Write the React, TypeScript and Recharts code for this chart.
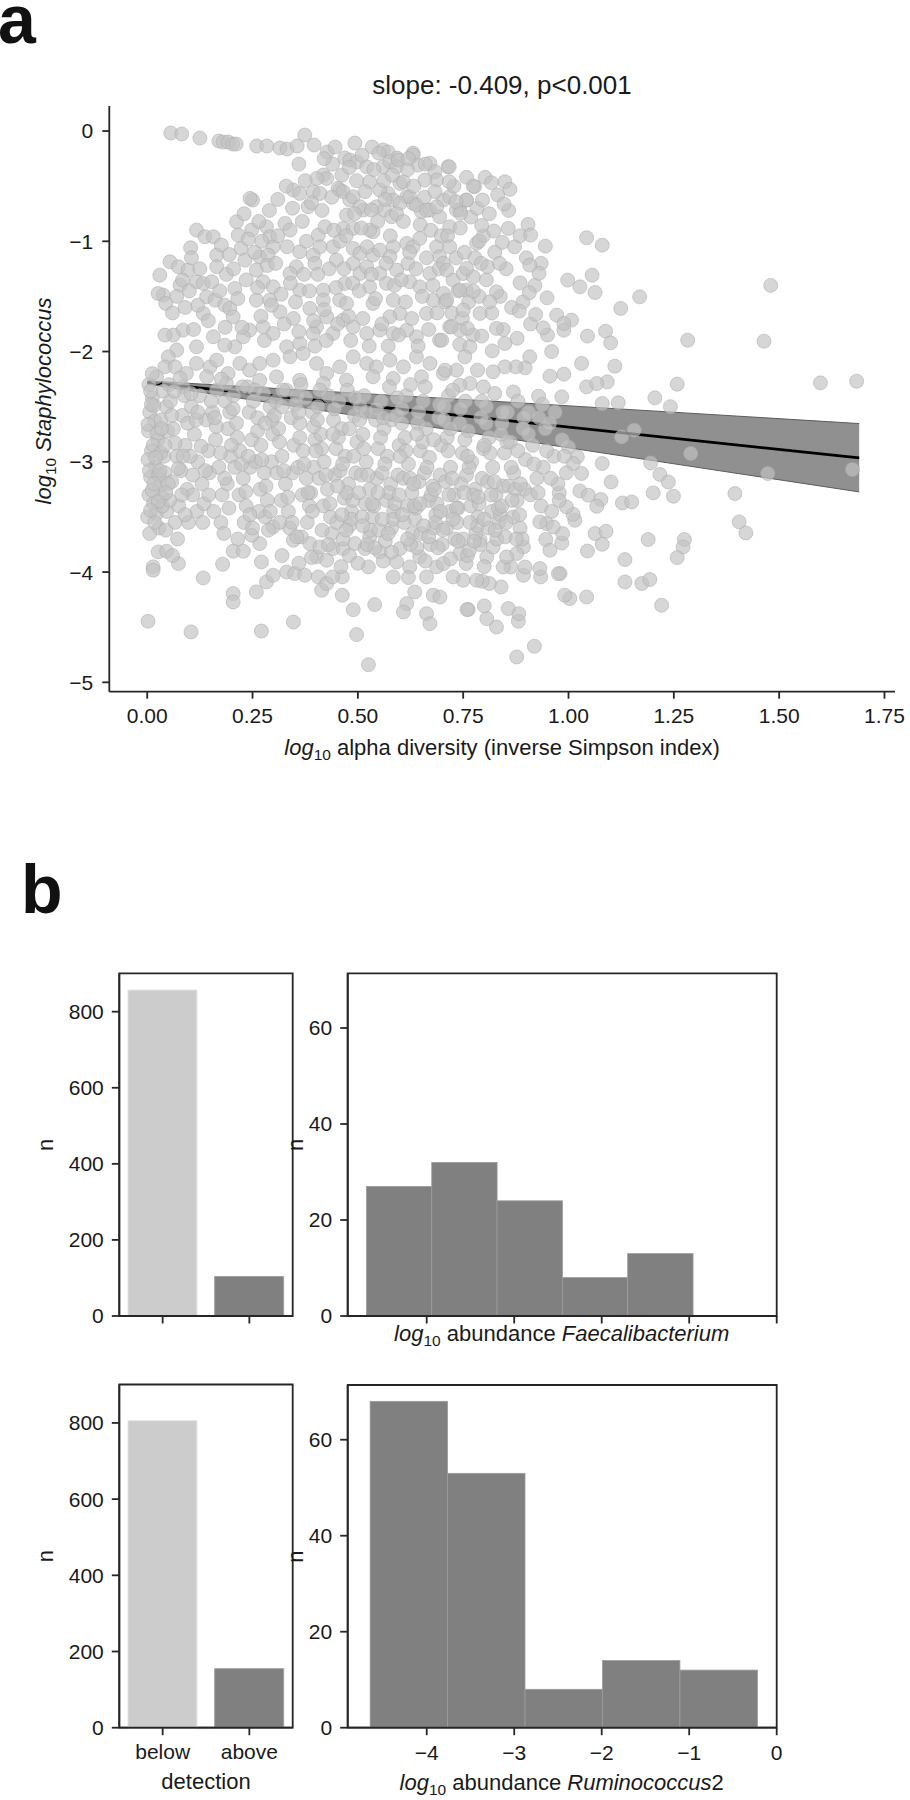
import React from 'react';
import { ComposedChart, Scatter, Line, Area, XAxis, YAxis, BarChart, Bar, Cell, ReferenceArea } from 'recharts';

const FONT = '"Liberation Sans", Arial, Helvetica, sans-serif';
const AX = '#262626';

// ---------- panel a: scatter values [log10 alpha diversity, log10 Staphylococcus] ----------
const topRowPoints: [number, number][] = [
  [.056,-.018],[.082,-.027],[.125,-.064],[.170,-.091],[.180,-.10],[.192,-.10],[.203,-.118],[.211,-.118],[.260,-.136],[.284,-.136],
  [.315,-.154],[.332,-.163],[.356,-.136],[.374,-.036],[.396,-.127],[.427,-.19],[.446,-.145],[.469,-.245],[.481,-.263],[.498,-.281],
  [.493,-.109],[.534,-.145],[.560,-.172],[.572,-.19],[.593,-.245],[.631,-.2],
];

const upperPoints: [number, number][] = [
  [.03,-1.307],[.038,-1.488],[.026,-1.473],[.044,-1.564],[.054,-1.186],[.074,-1.231],[.097,-1.261],[.078,-1.397],[.084,-1.352],[.117,-.898],
  [.137,-.959],[.157,-.959],[.103,-1.059],[.165,-1.125],[.176,-1.034],[.165,-1.231],[.117,-1.367],[.133,-1.382],[.153,-1.367],[.141,-1.503],
  [.133,-1.655],[.161,-1.534],[.184,-1.579],[.196,-1.609],[.204,-1.685],[.208,-1.428],[.212,-.823],[.216,-.944],[.223,-1.065],[.232,-1.171],
  [.25,-.626],[.244,-.611],[.259,-1.534],[.248,-.898],[.283,-.868],[.291,-.959],[.299,-1.05],[.267,-1.14],[.287,-1.125],[.259,-1.261],
  [.275,-1.367],[.299,-1.413],[.327,-.838],[.339,-.898],[.362,-1.095],[.354,-1.231],[.362,-1.443],[.394,-1.125],[.398,-1.201],[.418,-1.443],
  [.418,-1.534],[.386,-1.609],[.347,-1.7],[.315,-1.64],[.291,-1.534],[.339,-1.292],[.347,-.535],[.362,-.566],[.382,-.687],[.394,-.551],
  [.418,-.399],[.41,-.566],[.406,-.944],[.422,-.868],[.441,-1.05],[.449,-1.171],[.457,-1.534],[.473,-1.564],[.469,-1.382],[.489,-1.065],
  [.505,-1.11],[.489,-1.201],[.505,-1.292],[.521,-1.231],[.536,-1.125],[.552,-1.292],[.568,-1.382],[.584,-1.534],[.6,-1.655],[.576,-1.685],
  [.536,-1.564],[.528,-1.413],[.473,-.762],[.481,-.626],[.457,-.535],[.465,-.883],[.489,-.883],[.513,-.717],[.536,-.913],[.528,-.898],
  [.544,-.687],[.563,-.717],[.58,-.777],[.572,-.566],[.584,-.626],[.6,-.475],[.616,-.596],[.631,-.656],[.651,-.732],[.671,-.717],
  [.694,-.777],[.703,-.626],[.718,-.868],[.742,-.717],[.757,-.626],[.777,-.505],[.782,-1.019],[.616,-1.019],[.631,-1.05],[.647,-.974],
  [.687,-1.05],[.694,-1.14],[.584,-1.05],[.576,-1.14],[.592,-1.261],[.619,-1.201],[.623,-1.367],[.647,-1.413],[.671,-1.292],[.679,-1.534],
  [.703,-1.473],[.726,-1.352],[.75,-1.292],[.757,-1.443],[.718,-1.776],[.742,-1.806],[.694,-1.897],[.663,-1.655],[.639,-1.866],[.616,-1.806],
  [.584,-1.836],[.552,-1.806],[.521,-1.836],[.489,-1.776],[.465,-1.715],[.441,-1.836],[.426,-1.685],[.402,-1.776],[.394,-1.836],[.362,-1.927],
  [.331,-1.957],[.299,-1.836],[.275,-1.776],[.243,-1.806],[.228,-1.866],[.208,-1.957],[.184,-1.942],[.157,-1.866],[.117,-1.957],[.085,-1.806],
  [.062,-1.851],[.042,-1.851],[.070,-1.987],[.05,-2.048],[.042,-2.139],[.022,-2.229],[.066,-2.139],[.093,-2.199],[.117,-2.108],[.149,-2.139],
  [.165,-2.078],[.192,-2.199],[.22,-2.108],[.243,-2.169],[.267,-2.108],[.299,-2.078],[.339,-2.048],[.37,-2.018],[.402,-2.108],[.426,-2.199],
  [.457,-2.139],[.489,-2.048],[.521,-2.108],[.544,-2.139],[.576,-2.078],[.608,-2.139],[.639,-2.048],[.671,-2.108],[.703,-2.199],[.734,-2.169],
  [.766,-2.29],[.651,-2.229],[.584,-2.244],[.536,-2.229],[.473,-2.26],[.418,-2.29],[.362,-2.26],[.307,-2.229],[.267,-2.26],[.188,-2.29],
  [.141,-2.229],[.085,-2.32],[.631,-.218],[.643,-.309],[.671,-.293],[.683,-.369],[.714,-.324],[.687,-.445],[.659,-.445],[.608,-.46],
  [.552,-.535],[.528,-.46],[.426,-.43],[.402,-.43],[.734,-.717],[.718,-.596],[.521,-.324],[.56,-.324],[.576,-.278],[.592,-.324],
  [.596,-.263],[.453,-.52],[.465,-.55],[.489,-.596],[.505,-.687],[.532,-.717],[.6,-.656],[.623,-.596],[.639,-.671],[.663,-.717],[.687,-.687],
];

const upperFillPoints: [number, number][] = [
  [.105,-1.15],[.125,-1.25],[.145,-1.72],[.11,-1.8],[.172,-1.45],[.188,-1.3],[.195,-1.12],[.12,-1.58],[.185,-1.78],[.09,-1.6],[.07,-1.5],[.06,-1.65],[.1,-1.45],
  [.205,-1.25],[.215,-1.52],[.225,-1.78],[.235,-1.35],[.24,-.98],[.255,-1.1],[.262,-1.42],[.27,-1.68],[.278,-1.9],[.285,-1.22],[.29,-.72],[.295,-1.58],[.23,-.75],[.265,-.82],[.272,-1.0],
  [.305,-1.2],[.31,-.95],[.318,-1.48],[.325,-1.75],[.332,-1.05],[.34,-1.38],[.345,-.7],[.352,-1.55],[.36,-1.82],[.368,-.82],[.372,-1.3],[.378,-1.0],[.385,-1.45],[.39,-.65],[.395,-1.72],[.398,-1.95],[.31,-.62],[.33,-.5],[.375,-.45],[.36,-.3],
  [.405,-1.3],[.41,-1.05],[.415,-.72],[.42,-1.62],[.425,-1.9],[.432,-1.25],[.438,-.6],[.443,-.9],[.448,-1.42],[.452,-1.75],[.458,-1.0],[.462,-.4],[.467,-1.25],[.472,-.95],[.478,-1.68],[.483,-1.9],[.488,-1.38],[.492,-.75],[.497,-.45],[.44,-.3],[.42,-.25],[.48,-.33],
  [.503,-1.45],[.508,-.88],[.512,-1.7],[.517,-.55],[.522,-1.05],[.527,-1.95],[.532,-1.3],[.538,-.35],[.542,-1.52],[.547,-.82],[.552,-1.08],[.557,-1.75],[.562,-.45],[.567,-1.2],[.572,-1.95],[.577,-.95],[.582,-.4],[.587,-1.4],[.592,-.75],[.597,-1.85],[.55,-.2],[.51,-.22],[.565,-.62],
  [.603,-1.35],[.608,-.82],[.613,-1.55],[.618,-.35],[.623,-1.1],[.628,-1.7],[.633,-.5],[.638,-1.25],[.643,-1.95],[.648,-.85],[.653,-1.5],[.658,-.6],[.663,-1.15],[.668,-1.8],[.673,-.9],[.678,-1.4],[.683,-.55],[.688,-1.65],[.693,-1.25],[.698,-.95],[.62,-.25],[.66,-.3],
  [.703,-1.2],[.708,-1.55],[.713,-.95],[.718,-1.05],[.723,-1.65],[.728,-.5],[.733,-1.15],[.738,-1.45],[.743,-.88],[.748,-1.7],[.753,-1.1],[.758,-.42],[.763,-1.55],[.768,-.78],[.773,-1.85],[.778,-1.15],[.783,-.7],[.788,-1.5],[.793,-1.2],[.798,-.95],
  [.805,-1.35],[.812,-.75],[.818,-1.65],[.825,-1.1],[.832,-.58],[.838,-1.5],[.845,-1.8],[.852,-1.25],[.858,-.72],[.865,-1.6],[.872,-1.05],[.878,-1.88],[.885,-.95],[.892,-1.55],[.9,-1.15],[.91,-1.75],[.92,-1.4],[.935,-1.2],[.95,-1.85],[.96,-2.0],
];

const rightPoints: [number, number][] = [
  [1.480,-1.40],[1.283,-1.897],[1.464,-1.906],[1.598,-2.284],[1.684,-2.269],[1.258,-2.296],[1.205,-2.42],[1.242,-2.50],[1.169,-1.504],[1.124,-1.609],
  [1.043,-.968],[1.080,-1.035],[1.056,-1.307],[1.027,-1.413],[1.063,-1.464],[.998,-1.352],[1.045,-1.86],[1.088,-1.815],[1.100,-1.921],[1.031,-2.108],
  [1.110,-2.133],[1.092,-2.275],[1.118,-2.465],[1.080,-2.471],[1.043,-2.32],[.972,-1.67],[1.007,-1.715],[.989,-1.806],[.949,-1.513],[.930,-1.291],
  [.908,-1.216],[.945,-1.044],[.904,-.847],[.910,-.944],[.857,-.883],[.823,-.907],[.794,-.856],[.788,-.998],[.843,-1.01],[.849,-.46],
  [.861,-.529],[.847,-.662],[.796,-.626],[.802,-.42],[.817,-.469],[.774,-.499],[.717,-.324],[.717,-.46],[.758,-.626],[.733,-.641],
  [.744,-.747],[.885,-1.376],[.907,-1.467],[.883,-1.633],[.922,-1.664],[.940,-1.785],[.989,-1.745],[.829,-1.79],[.849,-1.927],[.819,-1.994],
  [.794,-1.86],[.908,-2.048],[.897,-2.148],[.875,-2.139],[.849,-2.139],[.784,-2.169],[.821,-2.184],[.929,-2.405],[.956,-2.223],[.989,-2.205],
  [.984,-2.411],[1.067,-2.29],[.808,-1.231],[.836,-1.2],[.774,-1.322],[.829,-1.458],[.813,-1.549],[.790,-1.654],[.750,-1.624],[.722,-1.776],
  [.760,-1.79],[.742,-1.936],[.766,-1.957],[.754,-2.048],[.699,-1.897],[.707,-2.169],[.742,-2.305],[.798,-2.32],[.869,-2.366],[.742,-1.443],
  [.774,-1.452],[.711,-1.261],[.758,-1.246],[.711,-1.534],[1.0,-2.865],[1.021,-2.955],
  [1.674,-3.07],[1.473,-3.106],[1.290,-2.925],[1.395,-3.288],[1.405,-3.545],[1.421,-3.645],[1.275,-3.705],[1.272,-3.772],[1.258,-3.869],[1.189,-3.705],
  [1.134,-3.887],[1.134,-4.09],[1.174,-4.104],[1.193,-4.068],[1.221,-4.301],[1.043,-4.226],[1.003,-4.24],[.991,-4.21],[.919,-4.673],[.877,-4.77],
  [.829,-4.498],[.806,-4.422],[.881,-4.446],[.882,-4.377],[.857,-4.331],[.762,-4.34],[.8,-4.307],[.840,-4.135],[.812,-4.104],[.795,-4.083],
  [.750,-4.074],[.893,-4.029],[.934,-4.044],[.980,-4.014],[1.045,-3.809],[1.080,-3.748],[1.063,-3.651],[1.089,-3.63],[.984,-3.736],[.986,-3.651],
  [.946,-3.705],[.893,-3.772],[.877,-3.832],[.863,-3.954],[.845,-3.954],[.806,-3.863],[.948,-3.56],[.964,-3.591],[.932,-3.545],[1.015,-3.53],
  [1.011,-3.476],[.995,-3.409],[.978,-3.282],[1.027,-3.264],[1.047,-3.303],[1.077,-3.342],[1.128,-3.373],[1.150,-3.364],[1.101,-3.183],[1.080,-3.016],
  [1.011,-3.016],[1.031,-3.106],[1.201,-3.282],[1.217,-3.115],[1.237,-3.183],[1.249,-3.312],[1.195,-3.01],[1.126,-2.774],[1.156,-2.713],[1.067,-3.403],
  [.956,-3.802],[.976,-4.014],[.932,-3.968],[.897,-3.954],[.853,-3.863],[.821,-3.772],[.790,-3.712],
];

const lowerPoints: [number, number][] = [
  [.002,-4.446],[.104,-4.543],[.271,-4.535],[.347,-4.453],[.497,-4.567],[.525,-4.84],[.489,-4.341],[.540,-4.295],[.463,-4.21],[.616,-4.286],
  [.608,-4.362],[.635,-4.18],[.663,-4.377],[.671,-4.468],[.679,-4.21],[.695,-4.226],[.759,-4.34],[.014,-3.953],[.014,-3.983],
  [.026,-3.817],[.046,-3.811],[.074,-3.923],[.133,-4.053],[.179,-3.929],[.204,-4.195],[.204,-4.271],[.204,-3.811],[.228,-3.811],[.259,-4.18],
  [.271,-3.908],[.283,-4.089],[.299,-4.029],[.331,-3.999],[.350,-4.014],[.374,-4.029],[.406,-4.044],[.414,-4.165],[.426,-4.104],[.463,-4.044],
  [.44,-4.044],[.402,-3.862],[.39,-3.868],[.426,-3.893],[.441,-3.787],[.465,-3.787],[.493,-3.742],[.517,-3.787],[.525,-3.953],[.528,-3.681],
  [.552,-3.817],[.584,-4.044],[.592,-3.908],[.6,-3.787],[.623,-3.953],[.647,-3.862],[.663,-4.044],[.687,-3.953],[.703,-3.923],[.726,-4.044],
  [.742,-3.832],[.757,-3.923],[.782,-4.074],[.267,-3.742],[.248,-3.666],[.299,-3.59],[.347,-3.711],[.366,-3.681],[.386,-3.742],[.41,-3.772],
  [.32,-3.85],[.36,-3.92],[.48,-3.85],[.5,-3.92],[.56,-3.9],[.58,-3.82],[.64,-3.78],[.66,-3.9],[.72,-3.88],[.7,-3.75],[.76,-3.85],[.8,-3.95],[.62,-4.05],[.46,-3.95],
];

const coreBandPoints: [number, number][] = [
  [.004,-2.30],[.012,-2.42],[.006,-2.55],[.018,-2.63],[.003,-2.72],[.025,-2.80],[.010,-2.90],[.002,-2.98],[.020,-3.05],[.008,-3.14],
  [.030,-3.22],[.004,-3.30],[.015,-3.38],[.001,-3.50],[.022,-3.47],[.035,-3.32],[.040,-2.95],[.045,-2.50],[.033,-2.62],[.028,-3.60],
  [.042,-3.10],[.048,-2.72],[.012,-2.20],[.038,-2.36],[.006,-3.65],[.046,-3.45],
  [.055,-2.45],[.062,-2.70],[.070,-2.95],[.058,-3.18],[.075,-3.40],[.083,-2.58],[.090,-2.85],[.066,-3.55],[.095,-3.25],[.080,-3.08],
  [.052,-2.30],[.088,-2.40],[.098,-3.55],[.072,-3.70],[.060,-3.85],
  [.105,-2.50],[.112,-2.75],[.120,-3.00],[.130,-3.20],[.140,-2.62],[.108,-3.30],[.125,-2.40],[.145,-2.90],[.118,-3.45],[.135,-3.38],[.148,-3.10],[.102,-2.95],
  [.155,-2.55],[.162,-2.80],[.170,-3.05],[.178,-3.30],[.185,-2.45],[.192,-2.70],[.198,-2.95],[.158,-3.45],[.175,-3.55],[.190,-3.20],[.165,-2.35],[.182,-3.65],
  [.205,-2.40],[.212,-2.65],[.220,-2.90],[.228,-3.15],[.235,-3.40],[.242,-2.55],[.248,-2.80],[.208,-3.05],[.218,-3.30],[.230,-3.55],[.245,-3.05],[.238,-2.32],[.215,-3.70],
  [.255,-2.35],[.262,-2.60],[.270,-2.85],[.278,-3.10],[.285,-3.35],[.292,-2.50],[.298,-2.75],[.258,-3.00],[.268,-3.25],[.280,-3.50],[.295,-3.00],[.288,-3.62],[.265,-3.45],
  [.305,-2.45],[.312,-2.70],[.320,-2.95],[.328,-3.20],[.335,-3.45],[.342,-2.60],[.348,-2.85],[.308,-3.10],[.318,-3.35],[.330,-2.35],[.345,-3.10],[.338,-3.60],[.315,-3.55],
  [.355,-2.40],[.362,-2.65],[.370,-2.90],[.378,-3.15],[.385,-3.40],[.392,-2.55],[.398,-2.80],[.358,-3.05],[.368,-3.30],[.380,-3.55],[.395,-3.05],[.388,-3.28],[.365,-2.30],
  [.405,-2.50],[.412,-2.75],[.420,-3.00],[.428,-3.25],[.435,-3.50],[.442,-2.62],[.448,-2.88],[.408,-3.15],[.418,-3.40],[.430,-2.40],[.445,-3.12],[.438,-3.65],[.415,-3.62],
  [.455,-2.45],[.462,-2.70],[.470,-2.95],[.478,-3.20],[.485,-3.45],[.492,-2.58],[.498,-2.82],[.458,-3.08],[.468,-3.33],[.480,-3.58],[.495,-3.10],[.488,-3.35],[.465,-3.70],[.475,-2.35],
  [.505,-2.50],[.512,-2.75],[.520,-3.00],[.528,-3.25],[.535,-3.50],[.542,-2.62],[.548,-2.88],[.508,-3.12],[.518,-3.38],[.530,-3.62],[.545,-3.15],[.538,-3.40],[.515,-2.40],
  [.555,-2.45],[.562,-2.70],[.570,-2.95],[.578,-3.20],[.585,-3.45],[.592,-2.58],[.598,-2.85],[.558,-3.10],[.568,-3.35],[.580,-3.60],[.595,-3.12],[.588,-3.38],[.575,-2.32],[.565,-3.72],
  [.605,-2.52],[.612,-2.78],[.620,-3.02],[.628,-3.28],[.635,-3.52],[.642,-2.65],[.648,-2.90],[.608,-3.15],[.618,-3.40],[.630,-3.65],[.645,-3.18],[.638,-3.42],[.615,-2.40],[.625,-3.75],
  [.655,-2.45],[.662,-2.70],[.670,-2.96],[.678,-3.22],[.685,-3.48],[.692,-2.60],[.698,-2.85],[.658,-3.10],[.668,-3.35],[.680,-3.60],[.695,-3.12],[.688,-3.38],[.672,-3.75],[.660,-2.32],
  [.705,-2.50],[.712,-2.78],[.720,-3.05],[.728,-3.30],[.735,-3.55],[.742,-2.65],[.748,-2.92],[.708,-3.18],[.718,-3.45],[.730,-3.70],[.745,-3.20],[.738,-3.42],[.715,-2.40],
  [.755,-2.45],[.762,-2.72],[.770,-3.00],[.778,-3.25],[.785,-3.50],[.792,-2.60],[.798,-2.88],[.758,-3.12],[.768,-3.40],[.780,-3.65],[.795,-3.15],[.788,-3.38],[.765,-3.80],
  [.805,-2.50],[.812,-2.78],[.820,-3.05],[.828,-3.30],[.835,-3.55],[.842,-2.65],[.848,-2.92],[.808,-3.18],[.818,-3.45],[.830,-3.70],[.845,-3.22],[.838,-3.48],
  [.855,-2.55],[.862,-2.82],[.870,-3.10],[.878,-3.35],[.885,-3.60],[.892,-2.70],[.898,-2.98],[.858,-3.22],[.868,-3.50],[.880,-2.45],[.895,-3.25],
  [.905,-2.55],[.915,-2.85],[.925,-3.15],[.935,-3.40],[.945,-2.70],[.910,-3.30],[.930,-2.60],[.940,-3.05],
  [.955,-2.65],[.965,-2.95],[.975,-3.20],[.985,-2.80],[.995,-3.10],[.960,-3.45],
];

const coreFillPoints: [number, number][] = [
  [.008,-2.36],[.016,-2.49],[.002,-2.66],[.024,-2.74],[.014,-2.85],[.032,-2.92],[.005,-3.08],[.027,-3.12],[.012,-3.26],[.036,-3.40],[.018,-3.55],[.044,-3.62],
  [.058,-2.58],[.066,-2.83],[.074,-3.06],[.082,-3.30],[.090,-3.48],[.064,-2.36],[.078,-2.24],[.096,-2.65],[.085,-2.95],[.053,-3.35],
  [.104,-2.38],[.116,-2.62],[.128,-2.86],[.138,-3.08],[.146,-3.30],[.152,-2.45],[.164,-2.68],[.174,-2.92],[.184,-3.15],[.194,-3.42],[.108,-3.12],[.132,-3.55],[.176,-2.25],[.196,-2.55],
  [.204,-2.52],[.214,-2.78],[.224,-3.02],[.234,-3.27],[.244,-3.48],[.252,-2.45],[.262,-2.72],[.272,-2.98],[.282,-3.22],[.292,-3.45],[.226,-2.32],[.276,-2.38],[.296,-2.62],[.25,-3.6],
  [.302,-2.58],[.314,-2.82],[.324,-3.08],[.334,-3.32],[.344,-3.55],[.352,-2.48],[.362,-2.78],[.372,-3.02],[.382,-3.28],[.392,-3.45],[.322,-2.35],[.376,-2.42],[.395,-2.68],[.355,-3.68],
  [.404,-2.62],[.414,-2.88],[.424,-3.12],[.434,-3.38],[.444,-2.52],[.454,-2.78],[.464,-3.02],[.474,-3.28],[.484,-3.52],[.494,-2.42],[.41,-2.35],[.45,-3.55],[.49,-2.95],[.43,-3.75],
  [.504,-2.62],[.514,-2.88],[.524,-3.12],[.534,-3.38],[.544,-2.52],[.554,-2.78],[.564,-3.02],[.574,-3.28],[.584,-3.52],[.594,-2.42],[.51,-3.5],[.55,-3.62],[.58,-2.62],[.54,-3.78],
  [.604,-2.65],[.614,-2.9],[.624,-3.15],[.634,-3.4],[.644,-2.55],[.654,-2.82],[.664,-3.05],[.674,-3.3],[.684,-3.55],[.694,-2.48],[.61,-3.55],[.65,-3.65],[.69,-3.78],[.625,-2.3],
  [.704,-2.62],[.714,-2.9],[.724,-3.15],[.734,-3.42],[.744,-2.52],[.754,-2.8],[.764,-3.05],[.774,-3.3],[.784,-3.58],[.794,-2.45],[.71,-3.6],[.75,-3.7],[.79,-3.75],[.725,-2.35],
  [.804,-2.65],[.814,-2.92],[.824,-3.18],[.834,-3.42],[.844,-2.55],[.854,-2.82],[.864,-3.05],[.874,-3.25],[.884,-3.48],[.894,-2.6],[.81,-3.6],[.85,-3.68],[.89,-3.7],[.825,-2.38],
  [.905,-2.75],[.918,-3.02],[.928,-3.28],[.938,-2.48],[.948,-2.9],[.958,-3.15],[.968,-2.55],[.978,-3.35],[.99,-2.95],
];

const coreDensePoints: [number, number][] = [
  [.452,-3.22],[.462,-3.48],[.472,-3.62],[.502,-3.28],[.512,-3.58],[.522,-3.75],[.548,-3.28],[.558,-3.52],[.572,-3.65],[.598,-3.3],
  [.606,-3.48],[.618,-3.7],[.632,-3.2],[.648,-3.38],[.656,-3.58],[.668,-3.68],[.682,-3.25],[.696,-3.45],[.702,-3.62],[.716,-3.3],
  [.726,-3.52],[.738,-3.72],[.752,-3.28],[.766,-3.55],[.776,-3.72],[.786,-3.32],[.8,-3.52],[.816,-3.3],[.826,-3.62],[.842,-3.4],
  [.852,-3.55],[.866,-3.35],[.876,-3.7],[.886,-3.2],
  [.01,-2.48],[.02,-2.96],[.03,-3.08],[.016,-3.2],[.026,-3.36],[.034,-2.7],[.042,-2.85],[.05,-3.2],[.008,-3.44],[.044,-3.28],
  [.12,-2.55],[.16,-2.6],[.2,-2.85],[.24,-2.95],[.28,-2.65],[.32,-2.5],[.36,-2.55],[.4,-2.9],[.44,-2.75],[.48,-2.7],
  [.52,-2.55],[.56,-2.6],[.6,-2.95],[.64,-2.75],[.68,-2.8],[.72,-2.7],[.76,-2.95],[.8,-2.85],[.84,-2.75],[.88,-2.9],
];

// regression fit and confidence band
const regX = [0, 0.84, 1.69];
const regFit = [-2.28, -2.62, -2.965];
const regLower = [-2.296, -2.78, -3.273];
const regUpper = [-2.266, -2.455, -2.653];

const xTicksA = [0, 0.25, 0.5, 0.75, 1.0, 1.25, 1.5, 1.75];
const yTicksA = [0, -1, -2, -3, -4, -5];

// ---------- panel b ----------
const detectionCats = ['below', 'above'];
const faecaliDetect = [857, 104];
const rumiDetect = [806, 155];
const faecaliBinEdges = [-4.686, -3.939, -3.193, -2.446, -1.700, -0.953];
const faecaliCounts = [27, 32, 24, 8, 13];
const rumiBinEdges = [-4.648, -3.763, -2.878, -1.993, -1.107, -0.222];
const rumiCounts = [68, 53, 8, 14, 12];
const histXTicks = [-4, -3, -2, -1, 0];
const countTicks = [0, 200, 400, 600, 800];
const histYTicks = [0, 20, 40, 60];

const scatterData = [
  ...topRowPoints, ...upperPoints, ...upperFillPoints, ...rightPoints, ...lowerPoints,
  ...coreBandPoints, ...coreFillPoints, ...coreDensePoints,
].map(([x, y]) => ({ x, y }));
const regData = regX.map((x, i) => ({ x, fit: regFit[i], band: [regLower[i], regUpper[i]] }));

const minus = (v: number | string) => String(v).replace('-', '\u2212');
const tickStyle = { fontSize: 21, fill: '#1a1a1a', fontFamily: FONT };
const axisLine = { stroke: AX, strokeWidth: 1.8 };
const emptyTick = () => <g />;

const dot = (p: any) => (
  <circle cx={p.cx} cy={p.cy} r={7} fill="#c2c2c2" fillOpacity={0.68} stroke="#ababab" strokeOpacity={0.55} strokeWidth={1} />
);

const COUNT_MAX = 900.9;
const HIST_MAX = 71.4;
const HIST_DOMAIN: [number, number] = [-4.903, 0];
const HIST_PLOT_W = 429;

function DetectionPanel({ values, top, showLabels }: { values: number[]; top: number; showLabels: boolean }) {
  const data = detectionCats.map((cat, i) => ({ cat, n: values[i] }));
  const mTop = showLabels ? 64.5 : 73.3;
  const mBottom = showLabels ? 32.3 : 24;
  return (
    <div style={{ position: 'absolute', left: 0, top }}>
      <BarChart width={300} height={480} data={data} barCategoryGap="10%" margin={{ top: mTop, right: 7.3, bottom: mBottom, left: 59.3 }}>
        <XAxis dataKey="cat" height={40} tickSize={7.5} tickMargin={9} tick={showLabels ? tickStyle : emptyTick}
          axisLine={axisLine} tickLine={axisLine} interval={0} />
        <YAxis type="number" domain={[0, COUNT_MAX]} ticks={countTicks} width={60} tickSize={7.5} tickMargin={8}
          tick={tickStyle} axisLine={axisLine} tickLine={axisLine} interval={0} />
        <Bar dataKey="n" isAnimationActive={false}>
          <Cell fill="#cccccc" stroke="#e4e4e4" strokeWidth={1} />
          <Cell fill="#808080" stroke="#a0a0a0" strokeWidth={1} />
        </Bar>
        <ReferenceArea x1="below" x2="above" y1={0} y2={COUNT_MAX} fill="none" stroke={AX} strokeWidth={1.8} ifOverflow="visible" />
        <text transform={`rotate(-90, 52.7, ${mTop + 171.5})`} x={52.7} y={mTop + 171.5} textAnchor="middle"
          fontSize={22} fontFamily={FONT} fill="#1a1a1a">n</text>
        {showLabels && (
          <text x={206} y={469} textAnchor="middle" fontSize={22} fontFamily={FONT} fill="#1a1a1a">detection</text>
        )}
      </BarChart>
    </div>
  );
}

function HistPanel({ edges, counts, top, showLabels, genus, suffix, labelY }:
  { edges: number[]; counts: number[]; top: number; showLabels: boolean; genus: string; suffix: string; labelY: number }) {
  const data = counts.map((n, i) => ({ mid: (edges[i] + edges[i + 1]) / 2, n }));
  const barSize = (edges[1] - edges[0]) * HIST_PLOT_W / (HIST_DOMAIN[1] - HIST_DOMAIN[0]);
  const mTop = showLabels ? 65 : 73.3;
  const mBottom = showLabels ? 32.3 : 24;
  const binShape = (p: any) => (
    <rect x={p.x + p.width / 2 - barSize / 2} y={p.y} width={barSize} height={p.height}
      fill="#808080" stroke="#9c9c9c" strokeWidth={0.8} />
  );
  return (
    <div style={{ position: 'absolute', left: 280, top }}>
      <BarChart width={630} height={480} data={data} margin={{ top: mTop, right: 133.3, bottom: mBottom, left: 17.7 }}>
        <XAxis type="number" dataKey="mid" domain={HIST_DOMAIN} ticks={histXTicks} allowDataOverflow height={40}
          tickSize={7.5} tickMargin={10} tick={showLabels ? tickStyle : emptyTick} tickFormatter={minus}
          axisLine={axisLine} tickLine={axisLine} interval={0} />
        <YAxis type="number" domain={[0, HIST_MAX]} ticks={histYTicks} width={50} tickSize={7.5} tickMargin={8}
          tick={tickStyle} axisLine={axisLine} tickLine={axisLine} interval={0} />
        <Bar dataKey="n" barSize={barSize} shape={binShape} isAnimationActive={false} />
        <ReferenceArea x1={HIST_DOMAIN[0]} x2={HIST_DOMAIN[1]} y1={0} y2={HIST_MAX} fill="none" stroke={AX} strokeWidth={1.8} ifOverflow="visible" />
        <text transform={`rotate(-90, 22.7, ${mTop + 171.5})`} x={22.7} y={mTop + 171.5} textAnchor="middle"
          fontSize={22} fontFamily={FONT} fill="#1a1a1a">n</text>
        <text x={281.7} y={labelY} textAnchor="middle" fontSize={22} fontFamily={FONT} fill="#1a1a1a">
          <tspan fontStyle="italic">log</tspan>
          <tspan fontSize={15.5} dy={5}>10</tspan>
          <tspan dy={-5}> abundance </tspan>
          <tspan fontStyle="italic">{genus}</tspan>
          {suffix ? <tspan>{suffix}</tspan> : null}
        </text>
      </BarChart>
    </div>
  );
}

export default function App() {
  return (
    <div style={{ position: 'absolute', left: 0, top: 0, width: 910, height: 1800, background: '#fff' }}>
      <div style={{ position: 'absolute', left: 0, top: 0 }}>
        <ComposedChart width={910} height={800} data={regData} margin={{ top: 106, right: 15, bottom: 48.3, left: 49.3 }}>
          <XAxis type="number" dataKey="x" domain={[-0.09, 1.775]} ticks={xTicksA} allowDataOverflow height={60}
            tickSize={7} tickMargin={9} tick={tickStyle} tickFormatter={(v: number) => v.toFixed(2)}
            axisLine={axisLine} tickLine={axisLine} interval={0} />
          <YAxis type="number" dataKey="y" domain={[-5.085, 0.227]} ticks={yTicksA} allowDataOverflow width={60}
            tickSize={7} tickMargin={9} tick={tickStyle} tickFormatter={minus}
            axisLine={axisLine} tickLine={axisLine} interval={0} />
          <Scatter data={scatterData} shape={dot} isAnimationActive={false} />
          <Area type="linear" dataKey="band" fill="#404040" fillOpacity={0.58} stroke="#5c5c5c" strokeWidth={1}
            isAnimationActive={false} dot={false} activeDot={false} />
          <Line type="linear" dataKey="fit" stroke="#000" strokeWidth={2.8} dot={false} activeDot={false} isAnimationActive={false} />
          <text x={502} y={94} textAnchor="middle" fontSize={26} fontFamily={FONT} fill="#1a1a1a">{'slope: -0.409, p<0.001'}</text>
          <text x={502} y={755} textAnchor="middle" fontSize={22} fontFamily={FONT} fill="#1a1a1a">
            <tspan fontStyle="italic">log</tspan>
            <tspan fontSize={15.5} dy={5}>10</tspan>
            <tspan dy={-5}> alpha diversity (inverse Simpson index)</tspan>
          </text>
          <text transform="rotate(-90, 51, 401)" x={51} y={401} textAnchor="middle" fontSize={22} fontFamily={FONT} fill="#1a1a1a">
            <tspan fontStyle="italic">log</tspan>
            <tspan fontSize={15.5} dy={5}>10</tspan>
            <tspan dy={-5}>{'  '}</tspan>
            <tspan fontStyle="italic">Staphylococcus</tspan>
          </text>
        </ComposedChart>
      </div>
      <svg width={120} height={120} style={{ position: 'absolute', left: 0, top: -10 }}>
        <text x={-2} y={53} fontSize={68} fontWeight="bold" fontFamily={FONT} fill="#111">a</text>
      </svg>
      <svg width={120} height={120} style={{ position: 'absolute', left: 0, top: 840 }}>
        <text x={21} y={73} fontSize={68} fontWeight="bold" fontFamily={FONT} fill="#111">b</text>
      </svg>
      <DetectionPanel values={faecaliDetect} top={900} showLabels={false} />
      <HistPanel edges={faecaliBinEdges} counts={faecaliCounts} top={900} showLabels={false}
        genus="Faecalibacterium" suffix="" labelY={441} />
      <DetectionPanel values={rumiDetect} top={1320} showLabels={true} />
      <HistPanel edges={rumiBinEdges} counts={rumiCounts} top={1320} showLabels={true}
        genus="Ruminococcus" suffix="2" labelY={470} />
    </div>
  );
}
